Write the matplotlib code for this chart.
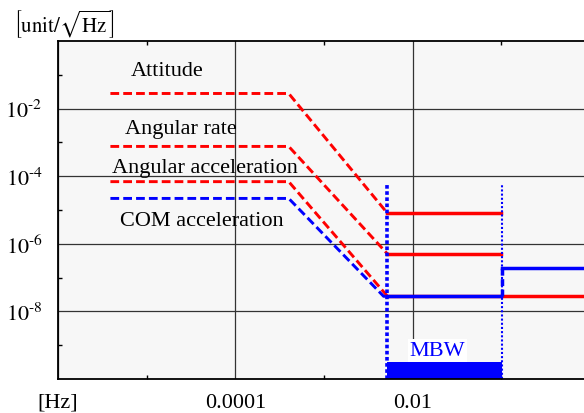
import matplotlib
matplotlib.use("Agg")
import matplotlib.pyplot as plt
from matplotlib.ticker import FixedLocator, NullFormatter

plt.rcParams['font.family'] = ['Liberation Serif', 'DejaVu Serif']
plt.rcParams['mathtext.fontset'] = 'stix'

# break frequencies [Hz]
f_start = 3.9e-6
f_knee = 4.0e-4
f_mbw_lo = 5.2e-3
f_mbw_hi = 0.1
f_end = 1.0

# levels [unit/sqrt(Hz)]
att_low, att_mbw = 2.8e-2, 8.0e-6
rate_low, rate_mbw = 7.6e-4, 5.0e-7
acc_low, acc_mbw, acc_high = 6.9e-5, 2.8e-8, 2.8e-8
com_low, com_bend, com_mbw, com_high = 2.2e-5, 4.7e-3, 2.8e-8, 1.9e-7

labels = ["Attitude", "Angular rate", "Angular acceleration", "COM acceleration"]
label_x = [1.7e-5, 2.4e-5, 4.6e-5, 4.2e-5]
label_y = [0.13, 2.6e-3, 1.8e-4, 4.9e-6]

xtick_pos = [1e-6, 1e-4, 1e-2, 1]
xtick_lab = ["[Hz]", "0.0001", "0.01", "1"]
ytick_pos = [1e-2, 1e-4, 1e-6, 1e-8]
ytick_lab = [r"$\mathrm{10}^{\text{-2}}$", r"$\mathrm{10}^{\text{-4}}$",
             r"$\mathrm{10}^{\text{-6}}$", r"$\mathrm{10}^{\text{-8}}$"]

red = '#ff0000'
blue = '#0000ff'
dash = (0, (3.0, 1.4))

fig = plt.figure(figsize=(5.84, 4.14), dpi=100)
ax = fig.add_axes([58/584, 34/414, 532/584, 338/414])
ax.set_facecolor('#f7f7f7')
ax.set_xscale('log')
ax.set_yscale('log')
ax.set_xlim(1e-6, 1)
ax.set_ylim(1e-10, 1)

# dashed parts (below MBW)
ax.plot([f_start, f_knee, f_mbw_lo], [att_low, att_low, att_mbw], color=red, lw=2.1, ls=dash)
ax.plot([f_start, f_knee, f_mbw_lo], [rate_low, rate_low, rate_mbw], color=red, lw=2.1, ls=dash)
ax.plot([f_start, f_knee, f_mbw_lo], [acc_low, acc_low, acc_mbw], color=red, lw=2.1, ls=dash)
ax.plot([f_start, f_knee, com_bend, f_mbw_lo], [com_low, com_low, com_mbw, com_mbw], color=blue, lw=2.1, ls=dash)

# solid parts inside MBW
ax.plot([f_mbw_lo, f_mbw_hi], [att_mbw, att_mbw], color=red, lw=2.5)
ax.plot([f_mbw_lo, f_mbw_hi], [rate_mbw, rate_mbw], color=red, lw=2.5)
ax.plot([f_mbw_lo, f_mbw_hi, f_end * 1.1], [acc_mbw, acc_high, acc_high], color=red, lw=2.5)
ax.plot([f_mbw_lo, f_mbw_hi], [com_mbw, com_mbw], color=blue, lw=2.5)
ax.plot([f_mbw_hi * 1.03, f_mbw_hi * 1.03], [com_mbw, com_high], color=blue, lw=2.5, ls=(0, (2, 1)))
ax.plot([f_mbw_hi * 1.03, f_end * 1.1], [com_high, com_high], color=blue, lw=2.5)

# MBW band
ax.plot([f_mbw_lo, f_mbw_lo], [1e-10, 6e-5], color=blue, lw=2.6, ls=(0, (1, 0.7)))
ax.plot([f_mbw_hi * 1.03, f_mbw_hi * 1.03], [1e-10, 5.5e-5], color=blue, lw=1.5, ls=(0, (1, 1)))
ax.fill_between([f_mbw_lo, f_mbw_hi * 1.03], 1e-10, 3.1e-10, color=blue, lw=0)
ax.text(0.019, 7.2e-10, "MBW", color=blue, fontsize=16, ha='center', va='center',
        bbox=dict(facecolor='white', edgecolor='none', pad=1.5))

for t, x, y in zip(labels, label_x, label_y):
    ax.text(x, y, t, fontsize=16, ha='center', va='center', color='black')

ax.xaxis.set_major_locator(FixedLocator(xtick_pos))
ax.set_xticklabels(xtick_lab)
ax.xaxis.set_minor_locator(FixedLocator([1e-5, 1e-3, 1e-1]))
ax.xaxis.set_minor_formatter(NullFormatter())
ax.yaxis.set_major_locator(FixedLocator(ytick_pos))
ax.set_yticklabels(ytick_lab)
ax.yaxis.set_minor_locator(FixedLocator([1e-1, 1e-3, 1e-5, 1e-7, 1e-9]))
ax.yaxis.set_minor_formatter(NullFormatter())

ax.tick_params(which='major', length=0, labelsize=16)
ax.tick_params(axis='x', which='major', pad=10)
ax.tick_params(axis='y', which='major', pad=11)
ax.tick_params(which='minor', direction='in', length=3, width=1, top=True)
ax.grid(True, which='major', color='#333333', lw=0.9)
ax.set_axisbelow(True)
for s in ax.spines.values():
    s.set_linewidth(1.3)
    s.set_color('black')

fig.text(14/584, 1 - 24/414, r"$\left[\mathrm{unit/}\sqrt{\mathrm{Hz}}\right]$", fontsize=15, ha='left', va='center')

fig.savefig("out.png", dpi=100)
